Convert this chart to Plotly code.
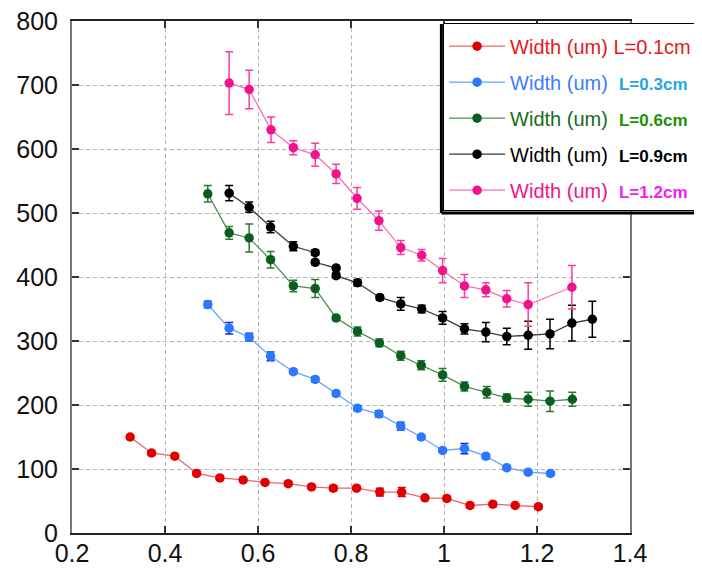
import plotly.graph_objects as go

# ---- data ----
red_x = [0.325, 0.371, 0.421, 0.468, 0.518, 0.568, 0.615, 0.665, 0.715, 0.762,
         0.812, 0.862, 0.909, 0.959, 1.006, 1.056, 1.105, 1.153, 1.203]
red_y = [150, 125, 120, 93, 86, 83, 79, 77, 72, 70, 70, 64, 64, 55, 54, 43, 45, 43, 41]
red_err = [3, 3, 3, 3, 3, 3, 3, 3, 3, 4, 3, 6, 7, 3, 4, 4, 4, 3, 4]

blue_x = [0.492, 0.538, 0.581, 0.627, 0.676, 0.723, 0.768, 0.814, 0.860, 0.907,
          0.951, 0.997, 1.044, 1.090, 1.135, 1.181, 1.229]
blue_y = [357, 320, 306, 276, 252, 240, 218, 195, 186, 167, 150, 129, 132, 120, 102, 95, 93]
blue_err = [5, 9, 6, 7, 3, 4, 4, 4, 5, 6, 3, 3, 8, 4, 3, 3, 3]

green_x = [0.492, 0.538, 0.581, 0.627, 0.676, 0.723, 0.768, 0.814, 0.861, 0.907,
           0.951, 0.997, 1.044, 1.092, 1.135, 1.181, 1.228, 1.276]
green_y = [530, 469, 461, 427, 386, 382, 336, 315, 297, 277, 262, 247, 229, 220, 211, 209, 206, 209]
green_err = [13, 10, 22, 13, 9, 14, 4, 7, 6, 7, 7, 10, 7, 9, 6, 11, 16, 11]

black_x = [0.538, 0.581, 0.627, 0.676, 0.723, 0.723, 0.768, 0.768, 0.814, 0.862,
           0.907, 0.952, 0.997, 1.044, 1.090, 1.135, 1.181, 1.228, 1.275, 1.319]
black_y = [531, 509, 478, 448, 438, 423, 414, 402, 391, 368, 358, 350, 336, 319,
           314, 307, 309, 311, 328, 334]
black_err = [12, 8, 9, 7, 4, 4, 4, 4, 5, 4, 10, 6, 10, 8, 15, 13, 22, 23, 28, 28]

pink_x = [0.538, 0.581, 0.628, 0.676, 0.723, 0.768, 0.813, 0.860, 0.907, 0.952,
          0.997, 1.044, 1.090, 1.135, 1.181, 1.275]
pink_y = [703, 693, 630, 602, 591, 561, 523, 488, 446, 434, 410, 386, 380, 366, 357, 384]
pink_err = [49, 30, 20, 11, 18, 15, 17, 15, 11, 9, 19, 18, 11, 13, 34, 34]

x_ticks = [0.2, 0.4, 0.6, 0.8, 1.0, 1.2, 1.4]
x_tick_labels = ["0.2", "0.4", "0.6", "0.8", "1", "1.2", "1.4"]
y_ticks = [0, 100, 200, 300, 400, 500, 600, 700, 800]

FONT = "Liberation Sans, Arial, sans-serif"

def name_html(wcol, label, lcol, bold):
    if bold:
        return (f'<span style="color:{wcol}">Width (um)&nbsp;&nbsp;</span>'
                f'<span style="color:{lcol};font-size:17px"><b>{label}</b></span>')
    return f'<span style="color:{wcol}">Width (um) </span><span style="color:{lcol}">{label}</span>'

series = [
    (red_x, red_y, red_err, "#e00000", "#f06464", "#e00000",
     name_html("#e41a1a", "L=0.1cm", "#e41a1a", False)),
    (blue_x, blue_y, blue_err, "#2a78ff", "#68a2ff", "#1428d8",
     name_html("#3b7dff", "L=0.3cm", "#1ea7e6", True)),
    (green_x, green_y, green_err, "#0b5e1f", "#4f8f55", "#2a7a34",
     name_html("#1a6a24", "L=0.6cm", "#229000", True)),
    (black_x, black_y, black_err, "#000000", "#3a3a3a", "#000000",
     name_html("#000000", "L=0.9cm", "#000000", True)),
    (pink_x, pink_y, pink_err, "#f0148c", "#ff6cb4", "#ff3aa0",
     name_html("#f0148c", "L=1.2cm", "#f020f0", True)),
]

fig = go.Figure()
for i, (xs, ys, es, mcol, lcol, ecol, nm) in enumerate(series):
    fig.add_trace(go.Scatter(
        x=xs, y=ys, mode="lines+markers", name=nm, legendgroup=f"g{i}",
        line=dict(color=lcol, width=1.3),
        marker=dict(color=mcol, size=9.5, symbol="circle"),
        error_y=dict(type="data", array=es, visible=True, color=ecol,
                     thickness=1.5, width=4),
    ))

axis_common = dict(
    showline=True, linewidth=2, mirror="ticks",
    ticks="inside", ticklen=7, tickwidth=1.5, tickcolor="#333",
    showgrid=True, gridcolor="#b4b4b4", gridwidth=1, griddash="4px,3px",
    zeroline=False, ticklabeloverflow="allow",
    tickfont=dict(family=FONT, size=25, color="#111"),
)

fig.update_xaxes(range=[0.2, 1.4], tickvals=x_ticks, ticktext=x_tick_labels,
                 linecolor="#222", ticklabelstandoff=-3, **axis_common)
fig.update_yaxes(range=[0, 800], tickvals=y_ticks, linecolor="#777",
                 ticklabelstandoff=7, **axis_common)

fig.update_layout(
    width=694, height=563, autosize=False,
    margin=dict(l=64, r=72, t=13, b=38, autoexpand=False),
    plot_bgcolor="white", paper_bgcolor="white",
    font=dict(family=FONT, size=20, color="#000"),
    showlegend=True,
    legend=dict(x=0.665, y=0.996, xanchor="left", yanchor="top",
                bgcolor="white", bordercolor="#000", borderwidth=1,
                tracegroupgap=7, traceorder="grouped", itemwidth=56,
                title=dict(text="&nbsp;", font=dict(size=2)),
                font=dict(family=FONT, size=20)),
    shapes=[
        dict(type="line", xref="paper", yref="paper", x0=0.662, x1=0.662,
             y0=0.625, y1=0.994, line=dict(color="#000", width=3)),
        dict(type="line", xref="paper", yref="paper", x0=0.662, x1=1.2,
             y0=0.625, y1=0.625, line=dict(color="#000", width=3)),
    ],
)

fig.write_html("out.html")
